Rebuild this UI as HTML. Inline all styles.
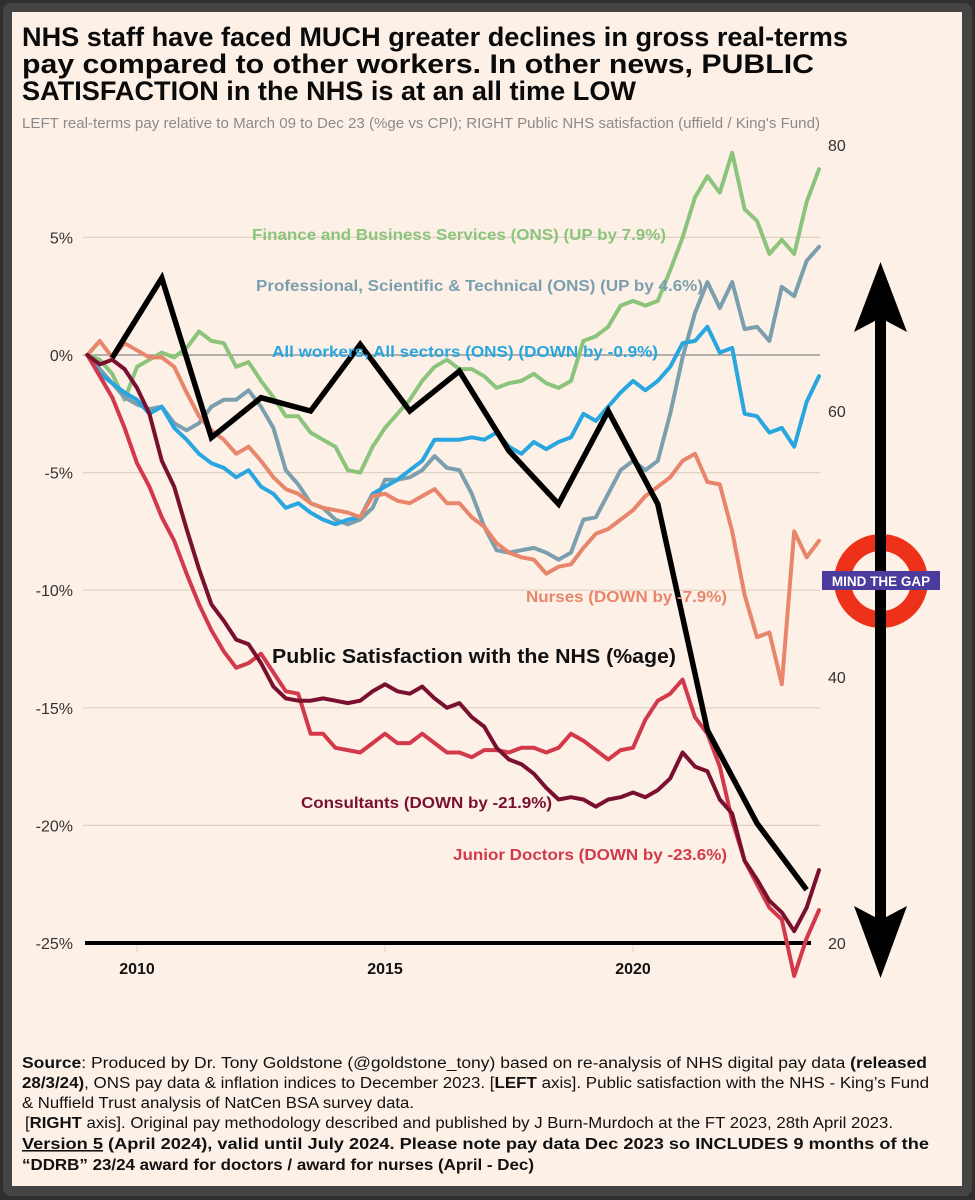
<!DOCTYPE html>
<html><head><meta charset="utf-8"><style>
html,body{margin:0;padding:0;background:#3a3a3a;}
svg{display:block;font-family:"Liberation Sans",Arial,sans-serif;}
</style></head><body>
<svg width="975" height="1200" viewBox="0 0 975 1200">
<rect x="0" y="0" width="975" height="1200" fill="#2f2f2f"/>
<rect x="3" y="3" width="969" height="1193" rx="8" fill="#444"/>
<rect x="12" y="12" width="950" height="1174" fill="#fdf1e7"/>

<g font-weight="bold" font-size="26.5" fill="#0a0a0a">
<text x="22" y="46" textLength="826" lengthAdjust="spacingAndGlyphs">NHS staff have faced MUCH greater declines in gross real-terms</text>
<text x="22" y="73" textLength="792" lengthAdjust="spacingAndGlyphs">pay compared to other workers. In other news, PUBLIC</text>
<text x="22" y="100" textLength="614" lengthAdjust="spacingAndGlyphs">SATISFACTION in the NHS is at an all time LOW</text>
</g>
<text x="22" y="128" font-size="14.5" fill="#8a8a8a" textLength="798" lengthAdjust="spacingAndGlyphs">LEFT real-terms pay relative to March 09 to Dec 23 (%ge vs CPI); RIGHT Public NHS satisfaction (uffield / King's Fund)</text>

<g id="grid"></g>
<g id="axes"></g>
<g id="series"></g>
<g id="labels" font-weight="bold" font-size="15.5">
<text x="252" y="240" fill="#8cc47c" textLength="414" lengthAdjust="spacingAndGlyphs">Finance and Business Services (ONS) (UP by 7.9%)</text>
<text x="256" y="291" fill="#7b9fae" textLength="447" lengthAdjust="spacingAndGlyphs">Professional, Scientific &amp; Technical (ONS) (UP by 4.6%)</text>
<text x="272" y="357" fill="#29a6df" textLength="386" lengthAdjust="spacingAndGlyphs">All workers, All sectors (ONS) (DOWN by -0.9%)</text>
<text x="526" y="602" fill="#e8866c" textLength="201" lengthAdjust="spacingAndGlyphs">Nurses (DOWN by -7.9%)</text>
<text x="272" y="663" fill="#111" font-size="20" textLength="404" lengthAdjust="spacingAndGlyphs">Public Satisfaction with the NHS (%age)</text>
<text x="301" y="808" fill="#7a1030" textLength="251" lengthAdjust="spacingAndGlyphs">Consultants (DOWN by -21.9%)</text>
<text x="453" y="860" fill="#d23a4b" textLength="274" lengthAdjust="spacingAndGlyphs">Junior Doctors (DOWN by -23.6%)</text>
</g>

<g>
<rect x="875" y="310" width="11" height="620" fill="#000"/>
<path d="M880.5 262 L907 332 L880.5 318 L854 332 Z" fill="#000"/>
<path d="M880.5 978 L907 906 L880.5 920 L854 906 Z" fill="#000"/>
</g>
<g>
<circle cx="881" cy="581" r="38.5" fill="none" stroke="#ee3219" stroke-width="17"/>
<rect x="875" y="530" width="11" height="110" fill="#000"/>
<rect x="822" y="571" width="118" height="19" fill="#4b3b9c"/>
<text x="881" y="586" text-anchor="middle" fill="#fff" font-weight="bold" font-size="13.5">MIND THE GAP</text>
</g>

<g font-size="15.5" fill="#111">
<text x="22" y="1068" textLength="905" lengthAdjust="spacingAndGlyphs"><tspan font-weight="bold">Source</tspan>: Produced by Dr. Tony Goldstone (@goldstone_tony) based on re-analysis of NHS digital pay data <tspan font-weight="bold">(released</tspan></text>
<text x="22" y="1088" textLength="907" lengthAdjust="spacingAndGlyphs"><tspan font-weight="bold">28/3/24)</tspan>, ONS pay data &amp; inflation indices to December 2023. [<tspan font-weight="bold">LEFT</tspan> axis]. Public satisfaction with the NHS - King’s Fund</text>
<text x="22" y="1108" textLength="392" lengthAdjust="spacingAndGlyphs">&amp; Nuffield Trust analysis of NatCen BSA survey data.</text>
<text x="25" y="1128" textLength="868" lengthAdjust="spacingAndGlyphs">[<tspan font-weight="bold">RIGHT</tspan> axis]. Original pay methodology described and published by J Burn-Murdoch at the FT 2023, 28th April 2023.</text>
<text x="22" y="1149" font-weight="bold" textLength="907" lengthAdjust="spacingAndGlyphs"><tspan text-decoration="underline">Version 5</tspan>  (April 2024), valid until July 2024. Please note pay data Dec 2023 so INCLUDES 9 months of the</text>
<text x="22" y="1170" font-weight="bold" textLength="512" lengthAdjust="spacingAndGlyphs">“DDRB” 23/24 award  for doctors / award for nurses (April - Dec)</text>
</g>
</svg>
<script>
const startYear = 2009.0;
const stepYears = 0.25;
const leftTicks = [5, 0, -5, -10, -15, -20, -25];
const leftTickLabels = ["5%", "0%", "-5%", "-10%", "-15%", "-20%", "-25%"];
const rightTicks = [80, 60, 40, 20];
const yearTicks = [2010, 2015, 2020];
const finance = [0,-0.2,-0.8,-1.9,-0.5,-0.2,0.1,-0.1,0.3,1.0,0.6,0.5,-0.5,-0.3,-1.1,-1.8,-2.6,-2.6,-3.3,-3.6,-3.9,-4.9,-5.0,-3.9,-3.1,-2.5,-1.9,-1.1,-0.5,-0.2,-0.6,-0.6,-0.9,-1.4,-1.2,-1.1,-0.8,-1.2,-1.4,-1.1,0.6,0.8,1.2,2.1,2.3,2.1,2.3,3.6,5.0,6.7,7.6,6.9,8.6,6.2,5.7,4.3,4.9,4.3,6.5,7.9];
const professional = [0,-0.6,-1.2,-1.8,-2.1,-2.3,-2.2,-2.9,-3.2,-2.9,-2.2,-1.9,-1.9,-1.5,-2.2,-3.1,-4.9,-5.5,-6.3,-6.5,-7.0,-7.2,-7.0,-6.5,-5.3,-5.3,-5.2,-4.9,-4.3,-4.8,-4.9,-5.9,-7.3,-8.3,-8.4,-8.3,-8.2,-8.4,-8.7,-8.4,-7.0,-6.9,-5.9,-4.9,-4.5,-4.9,-4.5,-2.5,-0.1,1.8,3.1,2.0,3.1,1.1,1.2,0.6,2.9,2.5,4.0,4.6];
const allWorkers = [0,-0.8,-1.2,-1.6,-1.9,-2.5,-2.2,-3.1,-3.6,-4.2,-4.6,-4.8,-5.2,-4.9,-5.6,-5.9,-6.5,-6.3,-6.7,-7.0,-7.2,-7.0,-6.9,-5.9,-5.6,-5.3,-4.9,-4.5,-3.6,-3.6,-3.6,-3.5,-3.6,-3.3,-3.9,-4.2,-3.7,-4.0,-3.7,-3.5,-2.5,-2.8,-2.2,-1.6,-1.1,-1.5,-1.1,-0.5,0.5,0.6,1.2,0.1,0.3,-2.5,-2.6,-3.3,-3.1,-3.9,-2.0,-0.9];
const nurses = [0,0.6,-0.1,0.5,0.2,-0.1,-0.1,-0.5,-1.6,-2.6,-3.2,-3.6,-4.2,-3.9,-4.5,-5.2,-5.7,-5.9,-6.3,-6.5,-6.6,-6.7,-6.9,-6.0,-5.9,-6.2,-6.3,-6.0,-5.7,-6.3,-6.3,-6.9,-7.3,-8.0,-8.4,-8.6,-8.7,-9.3,-9.0,-8.9,-8.2,-7.6,-7.4,-7.0,-6.6,-6.0,-5.6,-5.2,-4.5,-4.2,-5.4,-5.5,-7.5,-10.2,-12.0,-11.8,-14.0,-7.5,-8.6,-7.9];
const consultants = [0,-0.4,-0.2,-0.6,-1.4,-2.5,-4.5,-5.6,-7.4,-9.1,-10.6,-11.3,-12.1,-12.3,-13.1,-14.1,-14.6,-14.7,-14.7,-14.6,-14.7,-14.8,-14.7,-14.3,-14.0,-14.3,-14.4,-14.1,-14.6,-15.0,-14.8,-15.4,-15.8,-16.7,-17.2,-17.4,-17.8,-18.4,-18.9,-18.8,-18.9,-19.2,-18.9,-18.8,-18.6,-18.8,-18.5,-18.0,-16.9,-17.5,-17.7,-18.9,-19.5,-21.5,-22.3,-23.2,-23.7,-24.5,-23.5,-21.9];
const juniorDoctors = [0,-0.9,-1.8,-3.1,-4.6,-5.6,-6.9,-7.9,-9.3,-10.6,-11.7,-12.6,-13.3,-13.1,-12.7,-13.5,-14.3,-14.4,-16.1,-16.1,-16.7,-16.8,-16.9,-16.5,-16.1,-16.5,-16.5,-16.1,-16.5,-16.9,-16.9,-17.1,-16.8,-16.8,-16.9,-16.7,-16.7,-16.9,-16.7,-16.1,-16.4,-16.8,-17.2,-16.8,-16.7,-15.5,-14.7,-14.4,-13.8,-15.4,-16.1,-17.5,-19.8,-21.5,-22.5,-23.5,-24.0,-26.4,-24.8,-23.6];
const satisfactionYears = [2009.5,2010.5,2011.5,2012.5,2013.5,2014.5,2015.5,2016.5,2017.5,2018.5,2019.5,2020.5,2021.5,2022.5,2023.5];
const satisfaction = [64,70,58,61,60,65,60,63,57,53,60,53,36,29,24];

const NS = "http://www.w3.org/2000/svg";
function xScale(t){ return 137 + (t - 2010) * 49.6; }
function yLeft(v){ return 355 - v * 23.52; }
function yRight(v){ return 943 - (v - 20) * 13.3; }
function mk(tag, attrs, parent){ const e = document.createElementNS(NS, tag); for (const k in attrs) e.setAttribute(k, attrs[k]); parent.appendChild(e); return e; }

const grid = document.getElementById('grid');
const axes = document.getElementById('axes');
leftTicks.forEach((v, i) => {
  if (v !== -25) {
    const ln = mk('line', {x1: 83, x2: 820, y1: yLeft(v), y2: yLeft(v), stroke: v === 0 ? '#9a9a9a' : '#ddd1c6', 'stroke-width': v === 0 ? 1.6 : 1.2}, grid);
    
    
  }
  const t = mk('text', {x: 73, y: yLeft(v) + 6, 'text-anchor': 'end', 'font-size': 16, fill: '#333'}, axes);
  t.textContent = leftTickLabels[i];
  
  
});
rightTicks.forEach(v => {
  const t = mk('text', {x: 828, y: yRight(v) + 6, 'font-size': 16, fill: '#333'}, axes);
  t.textContent = String(v);
  
  
});
yearTicks.forEach(y => {
  const tk = mk('line', {x1: xScale(y), x2: xScale(y), y1: 944, y2: 952, stroke: '#ddd1c6', 'stroke-width': 1}, axes);
  
  
  const t = mk('text', {x: xScale(y), y: 974, 'text-anchor': 'middle', 'font-size': 16, 'font-weight': 'bold', fill: '#111'}, axes);
  t.textContent = String(y);
  
  
});
const base = mk('line', {x1: 85, x2: 811, y1: yLeft(-25), y2: yLeft(-25), stroke: '#000', 'stroke-width': 4}, axes);



const seriesG = document.getElementById('series');
function drawSeries(vals, color, name){
  const d = vals.map((v, i) => (i ? 'L' : 'M') + xScale(startYear + i * stepYears).toFixed(1) + ' ' + yLeft(v).toFixed(1)).join(' ');
  const p = mk('path', {d: d, fill: 'none', stroke: color, 'stroke-width': 4, 'stroke-linejoin': 'round', 'stroke-linecap': 'round'}, seriesG);
  
  
}
drawSeries(finance, '#8cc47c', 'finance-line');
drawSeries(professional, '#7b9fae', 'professional-line');
drawSeries(allWorkers, '#29a6df', 'all-workers-line');
drawSeries(nurses, '#e8866c', 'nurses-line');
drawSeries(juniorDoctors, '#d23a4b', 'junior-doctors-line');
drawSeries(consultants, '#7a1030', 'consultants-line');
const sd = satisfaction.map((v, i) => (i ? 'L' : 'M') + xScale(satisfactionYears[i]).toFixed(1) + ' ' + yRight(v).toFixed(1)).join(' ');
const sp = mk('path', {d: sd, fill: 'none', stroke: '#000', 'stroke-width': 5.5, 'stroke-linejoin': 'miter'}, seriesG);


</script>
</body></html>
